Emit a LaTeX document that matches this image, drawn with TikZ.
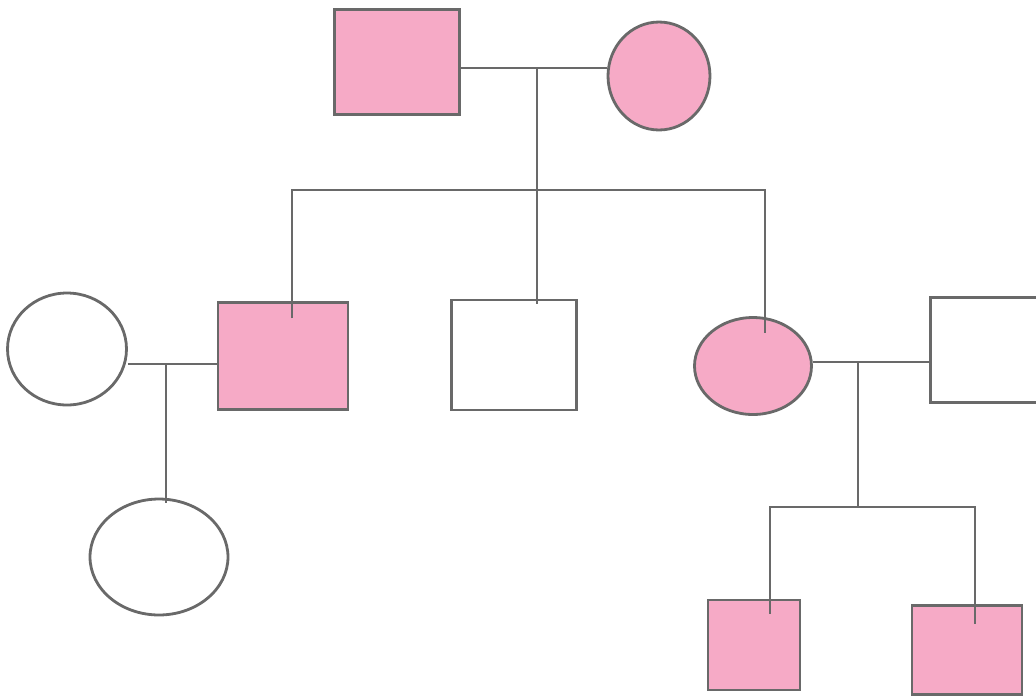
\documentclass[tikz,border=0pt]{standalone}
\usetikzlibrary{shapes.geometric}
\definecolor{marker}{RGB}{246,170,198}
\definecolor{pencil}{RGB}{105,105,105}
\tikzset{
	male/.style = {draw = pencil, line width = 1.6pt, rectangle, inner sep = 0pt},
	female/.style = {draw = pencil, line width = 1.6pt, ellipse, inner sep = 0pt},
	hit/.style = {fill = marker},
	link/.style = {draw = pencil, line width = 1.3pt}
}
\begin{document}
\begin{tikzpicture}[x = 0.02cm, y = -0.02cm]
		\useasboundingbox (0,0) rectangle (1036,698);
		% first generation
		\node [male, hit, minimum width = 2.5cm, minimum height = 2.1cm] (gpa) at (397,62) {};
		\node [female, hit, minimum width = 2.04cm, minimum height = 2.16cm] (gma) at (659,76) {};
		% second generation
		\node [female, minimum width = 2.38cm, minimum height = 2.24cm] (wife) at (67,349) {};
		\node [male, hit, minimum width = 2.6cm, minimum height = 2.14cm] (son) at (283,356) {};
		\node [male, minimum width = 2.5cm, minimum height = 2.2cm] (son2) at (514,355) {};
		\node [female, hit, minimum width = 2.34cm, minimum height = 1.94cm] (dau) at (753,366) {};
		\node [male, minimum width = 2.3cm, minimum height = 2.1cm] (husb) at (988,350) {};
		% third generation
		\node [female, minimum width = 2.76cm, minimum height = 2.32cm] (gdau) at (159,557) {};
		\node [male, hit, minimum width = 1.84cm, minimum height = 1.8cm] (gson) at (754,645) {};
		\node [male, hit, minimum width = 2.2cm, minimum height = 1.78cm] (gson2) at (967,650) {};
		% marriage lines
		\coordinate (m1) at (537,68);
		\coordinate (m2) at (166,364);
		\coordinate (m3) at (858,362);
		\draw [link] (gpa.east |- m1) -- (gma.west |- m1);
		\draw [link] (wife.east |- m2) -- (son.west |- m2);
		\draw [link] (dau.east |- m3) -- (husb.west |- m3);
		% sibling bars (the strokes run a little into the boxes)
		\coordinate (b1) at (537,190);
		\coordinate (b3) at (858,507);
		\draw [link] (m1) -- (b1);
		\draw [link] ([yshift = -0.34cm]son.north -| 292,0) |- (b1) -| ([yshift = -0.34cm]dau.north -| 765,0);
		\draw [link] (b1) -- ([yshift = -0.1cm]son2.north -| b1);
		\draw [link] (m2) -- ([yshift = -0.1cm]gdau.north -| m2);
		\draw [link] (m3) -- (b3);
		\draw [link] ([yshift = -0.3cm]gson.north -| 770,0) |- (b3) -| ([yshift = -0.4cm]gson2.north -| 975,0);
\end{tikzpicture}
\end{document}
